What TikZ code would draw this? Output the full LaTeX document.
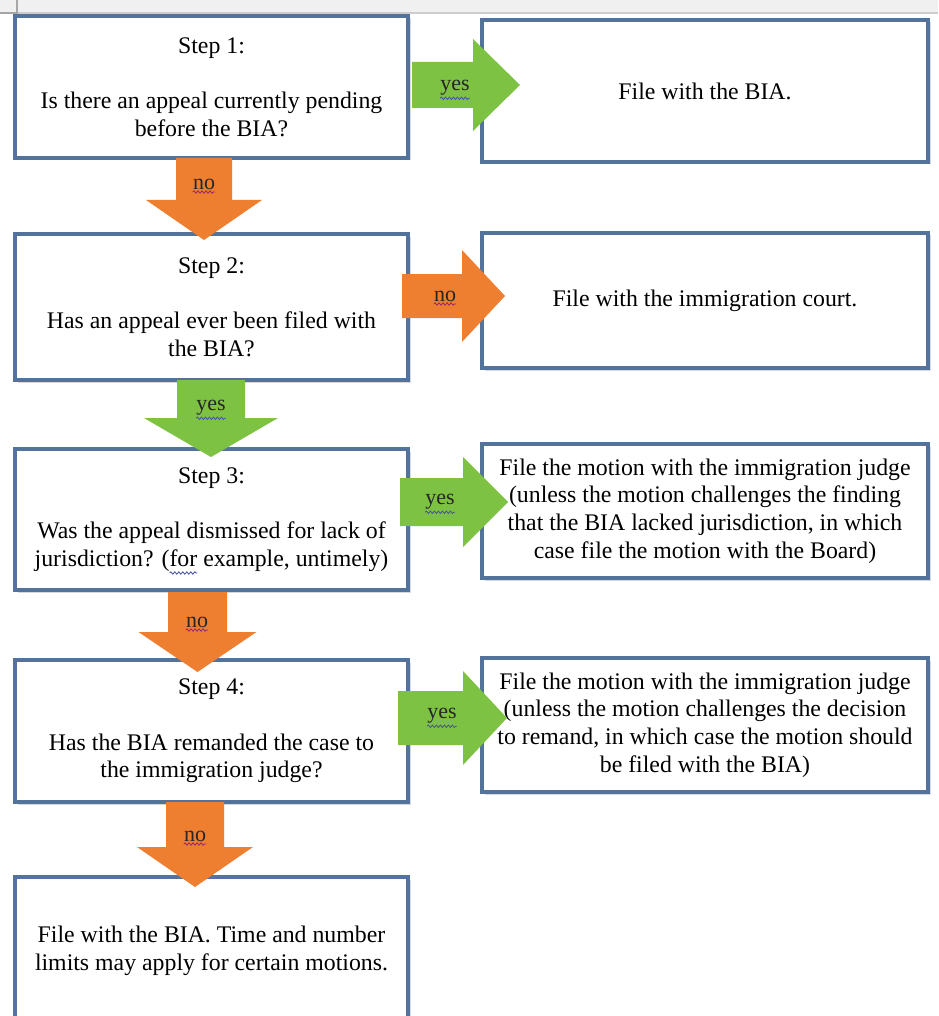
\documentclass[tikz,border=0pt]{standalone}
\usepackage{fontspec}
\setmainfont{Liberation Serif}
\usetikzlibrary{shadows,decorations.pathmorphing}
\definecolor{boxblue}{RGB}{84,115,156}
\definecolor{arrgreen}{RGB}{126,194,68}
\definecolor{arrorange}{RGB}{238,126,48}
\definecolor{squigblue}{RGB}{70,80,170}
\definecolor{squigred}{RGB}{150,40,110}
\newcommand\BlockDown[7]{% colour, cx, ytop, shaft hw, yheadbase, head hw, ytip
  \fill[#1] (#2-#4,#3) -- (#2+#4,#3) -- (#2+#4,#5) -- (#2+#6,#5) -- (#2,#7) -- (#2-#6,#5) -- (#2-#4,#5) -- cycle;}
\newcommand\BlockRight[7]{% colour, xleft, cy, shaft hw, xheadbase, head hw, xtip
  \fill[#1] (#2,#3-#4) -- (#5,#3-#4) -- (#5,#3-#6) -- (#7,#3) -- (#5,#3+#6) -- (#5,#3+#4) -- (#2,#3+#4) -- cycle;}
\newcommand\mainfs{\fontsize{23.8}{27.6}\selectfont}
\newlength\lineW
\newlength\forX
\newlength\forW
\begin{document}
\settowidth{\lineW}{\mainfs jurisdiction? (for example, untimely)}%
\settowidth{\forX}{\mainfs jurisdiction? (}%
\settowidth{\forW}{\mainfs for}%
\pgfmathsetmacro\forA{211.5-0.5*\lineW/1pt+\forX/1pt}%
\pgfmathsetmacro\forB{\forA+\forW/1pt}%
\begin{tikzpicture}[x=1pt,y=-1pt,
  box/.style={draw=boxblue, line width=3.5pt, fill=white, rectangle, inner sep=0pt,
    align=center, font=\mainfs,
    drop shadow={shadow xshift=2.5pt, shadow yshift=-2.5pt, opacity=0.3, fill=gray}},
  lbl/.style={inner sep=0pt, font=\fontsize{22}{24}\selectfont, text=black!85},
  squig/.style={line width=0.8pt, decorate, decoration={snake,amplitude=1.2pt,segment length=4pt}}]
\useasboundingbox (0,0) rectangle (938,1016);
\fill[white] (0,0) rectangle (938,1016);
% top ruler line
\fill[gray!12] (0,0) rectangle (938,12);
\draw[gray!40, line width=2.5pt] (17,13) -- (938,13);
\draw[gray!70, line width=1.2pt] (0,13) -- (17,13);
\draw[gray!70, line width=1.2pt] (17,0) -- (17,17);
% boxes left
\node[box, minimum width=393pt, minimum height=142pt] (b1) at (211.5,87)
  {Step 1:\\[27.6pt]Is there an appeal currently pending\\before the BIA?};
\node[box, minimum width=393pt, minimum height=146pt] (b2) at (211.5,307)
  {Step 2:\\[27.6pt]Has an appeal ever been filed with\\the BIA?};
\node[box, minimum width=393pt, minimum height=141pt] (b3) at (211.5,519.5)
  {Step 3:\\[27.6pt]Was the appeal dismissed for lack of\\jurisdiction? (for example, untimely)};
\node[box, minimum width=393pt, minimum height=142pt] (b4) at (211.5,731)
  {Step 4:\\[27.6pt]Has the BIA remanded the case to\\the immigration judge?};
\node[box, minimum width=393pt, minimum height=148pt] (b5) at (211.5,951)
  {File with the BIA. Time and number\\limits may apply for certain motions.};
% spelling squiggle under "for"
\coordinate (forA) at (\forA,573);
\coordinate (forB) at (\forB,573);
\draw[squig,squigblue] (forA) -- (forB);
% boxes right
\node[box, minimum width=446pt, minimum height=142pt] (r1) at (705,91)
  {File with the BIA.};
\node[box, minimum width=446pt, minimum height=135pt] (r2) at (705,300.5)
  {File with the immigration court.};
\node[box, minimum width=446pt, minimum height=134pt] (r3) at (705,511)
  {File the motion with the immigration judge\\(unless the motion challenges the finding\\that the BIA lacked jurisdiction, in which\\case file the motion with the Board)};
\node[box, minimum width=446pt, minimum height=134pt] (r4) at (705,725)
  {File the motion with the immigration judge\\(unless the motion challenges the decision\\to remand, in which case the motion should\\be filed with the BIA)};
% block arrows
\BlockRight{arrgreen}{412}{85}{23}{473}{46}{520}
\BlockDown{arrorange}{204}{158}{28}{200}{58}{240}
\BlockRight{arrorange}{402}{296}{22}{462}{46}{505}
\BlockDown{arrgreen}{211}{380}{34}{418}{67}{457}
\BlockRight{arrgreen}{400}{502}{24}{463}{45}{508}
\BlockDown{arrorange}{197.5}{592}{29.5}{632}{59}{672}
\BlockRight{arrgreen}{398}{718}{27}{463}{47}{507}
\BlockDown{arrorange}{195}{802}{29}{847}{58}{887}
% labels
\node[lbl] (l1) at (455,88) {yes};
\node[lbl] (l2) at (204,184) {no};
\node[lbl] (l3) at (445,296) {no};
\node[lbl] (l4) at (211,408) {yes};
\node[lbl] (l5) at (440,502) {yes};
\node[lbl] (l6) at (197,622) {no};
\node[lbl] (l7) at (442,716) {yes};
\node[lbl] (l8) at (195,836) {no};
\foreach \n/\c in {l1/squigblue,l4/squigblue,l5/squigblue,l7/squigblue,l2/squigred,l3/squigred,l6/squigred,l8/squigred}
  \draw[squig,\c] ([yshift=-2.5pt]\n.south west) -- ([yshift=-2.5pt]\n.south east);
\end{tikzpicture}
\end{document}
